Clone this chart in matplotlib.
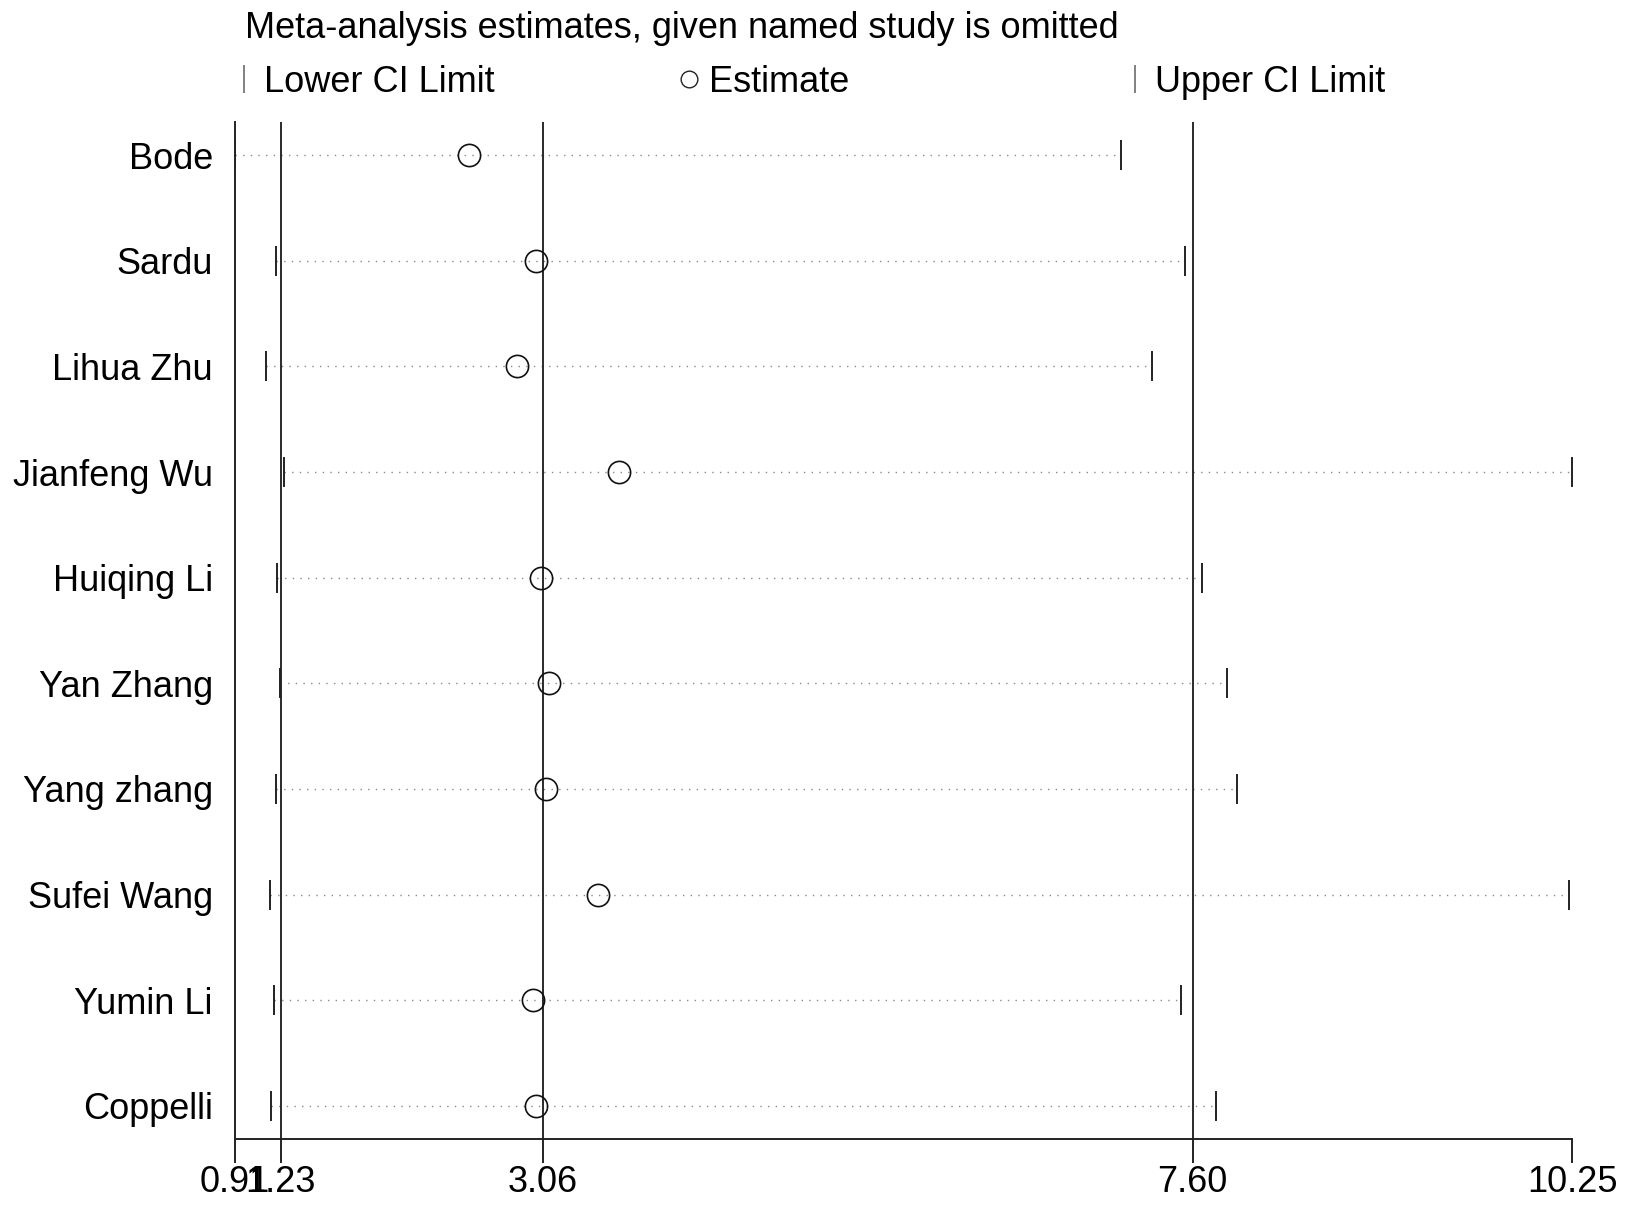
# Meta-analysis sensitivity plot (one study omitted at a time)
# redrawn in matplotlib

import matplotlib.pyplot as plt
from matplotlib.lines import Line2D

plt.rcParams['font.family'] = ['Liberation Sans', 'DejaVu Sans']

studies = ['Bode', 'Sardu', 'Lihua Zhu', 'Jianfeng Wu', 'Huiqing Li',
           'Yan Zhang', 'Yang zhang', 'Sufei Wang', 'Yumin Li', 'Coppelli']
lower = [0.91, 1.198, 1.129, 1.252, 1.205, 1.226, 1.196, 1.154, 1.182, 1.164]
estimate = [2.547, 3.015, 2.882, 3.592, 3.048, 3.106, 3.085, 3.444, 2.994, 3.015]
upper = [7.097, 7.548, 7.317, 10.25, 7.666, 7.84, 7.912, 10.226, 7.522, 7.763]

# overall estimate and CI (reference lines)
overall = [1.23, 3.06, 7.60]
xticks = [0.91, 1.23, 3.06, 7.60, 10.25]
xticklabels = ['0.91', '1.23', '3.06', '7.60', '10.25']

n = len(studies)
ypos = list(range(n, 0, -1))

fig = plt.figure(figsize=(16.3, 12.09), dpi=100, facecolor='w')
ax = fig.add_axes([235 / 1630, 70 / 1209, 1337 / 1630, 1017 / 1209])

for i in range(n):
    ax.plot([lower[i], upper[i]], [ypos[i], ypos[i]], linestyle=(0, (1, 4.5)),
            color='#8a8a8a', linewidth=1.0, zorder=1)

for x in overall:
    ax.axvline(x, color='#2a2a2a', linewidth=1.4, zorder=2)

ax.plot(lower, ypos, linestyle='none', marker='|', markersize=21,
        markeredgewidth=1.4, color='#222222', zorder=3)
ax.plot(estimate, ypos, linestyle='none', marker='o', markersize=16,
        markerfacecolor='none', markeredgecolor='#111111', markeredgewidth=1.2,
        zorder=4)
ax.plot(upper, ypos, linestyle='none', marker='|', markersize=21,
        markeredgewidth=1.4, color='#222222', zorder=3)

ax.set_xlim(0.91, 10.25)
ax.set_ylim(0.685, 10.315)
ax.set_xticks(xticks)
ax.set_xticklabels(xticklabels, fontsize=26)
ax.set_yticks(ypos)
ax.set_yticklabels(studies, fontsize=26)
ax.tick_params(axis='x', length=17, width=1.4, color='#222222', pad=2)
ax.tick_params(axis='y', length=0, pad=16)

for s in ['top', 'right']:
    ax.spines[s].set_visible(False)
for s in ['left', 'bottom']:
    ax.spines[s].set_linewidth(1.4)
    ax.spines[s].set_color('#222222')

# legend: three entries, each a third of the plot width
tick_h = Line2D([], [], linestyle='none', marker='|', markersize=20,
                markeredgewidth=1.3, color='#777777')
circ_h = Line2D([], [], linestyle='none', marker='o', markersize=12,
                markerfacecolor='none', markeredgecolor='#222222', markeredgewidth=1.0)
leg_items = [(tick_h, 'Lower CI Limit'), (circ_h, 'Estimate'), (tick_h, 'Upper CI Limit')]
leg_x = [0.0, 1 / 3, 2 / 3]
for k, ((h, lab), lx) in enumerate(zip(leg_items, leg_x)):
    lg = ax.legend([h], [lab], loc='center left', bbox_to_anchor=(lx - 0.0015, 1.039),
                   frameon=False, fontsize=26, handlelength=0.6, handletextpad=0.25,
                   borderpad=0, borderaxespad=0)
    if k < len(leg_items) - 1:
        ax.add_artist(lg)

fig.text(245 / 1630, 1 - 28 / 1209, 'Meta-analysis estimates, given named study is omitted',
         fontsize=26, va='center', ha='left')

plt.savefig('out.png', dpi=100)
